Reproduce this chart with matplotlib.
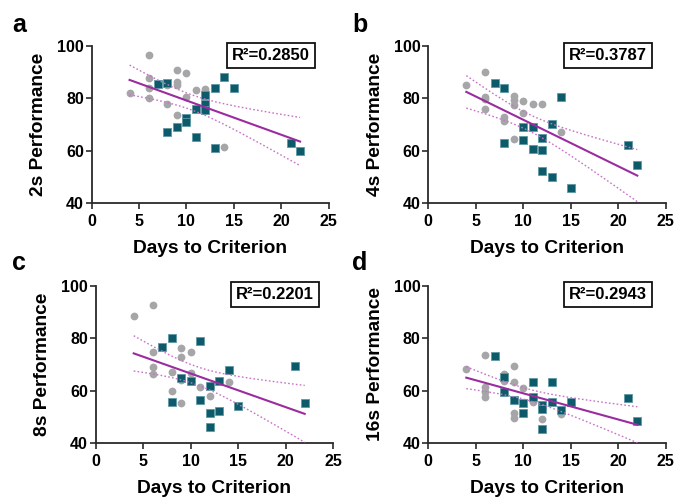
import numpy as np
import matplotlib
matplotlib.use("Agg")
import matplotlib.pyplot as plt

plt.rcParams['font.family'] = ['Liberation Sans', 'DejaVu Sans']
plt.rcParams['font.weight'] = 'bold'

# ---- data (x = days to criterion, y = performance) ----
# panel a: 2s
a_gray_x = [4, 6, 6, 6, 6, 8, 8, 9, 9, 9, 9, 10, 10, 11, 12, 14]
a_gray_y = [82, 96.5, 87.8, 83.8, 80, 85, 77.8, 90.7, 86.3, 85, 73.6, 89.5, 80.6, 83.1, 83.4, 61.5]
a_teal_x = [7, 8, 8, 9, 10, 10, 11, 11, 12, 12, 12, 13, 13, 14, 15, 21, 22]
a_teal_y = [85.4, 86, 67.3, 69.2, 72.3, 71, 75.8, 65.4, 81.2, 77.8, 75.5, 84, 60.9, 88.2, 83.8, 63, 60]

# panel b: 4s
b_gray_x = [4, 6, 6, 6, 6, 8, 8, 9, 9, 9, 9, 10, 10, 11, 12, 14]
b_gray_y = [85, 90, 80.6, 79.7, 75.8, 72.7, 71.4, 81, 79.3, 77.4, 64.3, 78.9, 74.5, 78, 77.8, 67]
b_teal_x = [7, 8, 8, 10, 10, 11, 11, 12, 12, 12, 13, 13, 14, 15, 21, 22]
b_teal_y = [86, 83.9, 62.8, 69, 64.1, 68.9, 60.7, 65, 60.2, 52.2, 70, 49.9, 80.6, 45.7, 62.3, 54.6]

# panel c: 8s
c_gray_x = [4, 6, 6, 6, 6, 8, 8, 9, 9, 9, 9, 10, 10, 11, 12, 14]
c_gray_y = [88.6, 92.6, 74.9, 68.8, 66.2, 66.9, 60, 76.4, 72.7, 64.1, 55.2, 74.6, 66.6, 61.5, 58, 63.2]
c_teal_x = [7, 8, 8, 9, 10, 11, 11, 12, 12, 12, 13, 13, 14, 15, 21, 22]
c_teal_y = [76.8, 80, 55.8, 64.7, 63.5, 78.9, 56.5, 61.8, 51.6, 46, 63.8, 52.3, 67.9, 54.2, 69.4, 55.2]

# panel d: 16s
d_gray_x = [4, 6, 6, 6, 6, 8, 8, 8, 9, 9, 9, 9, 10, 11, 12, 14]
d_gray_y = [68.4, 73.4, 61.5, 59.3, 57.4, 66.4, 65.1, 63.7, 69.2, 63.1, 51.4, 49.5, 60.9, 55.8, 49.1, 51]
d_teal_x = [7, 8, 8, 9, 10, 10, 11, 11, 12, 12, 12, 13, 13, 14, 15, 21, 22]
d_teal_y = [73.2, 65.1, 59.3, 56.5, 55.2, 51.4, 63.1, 57.4, 54.6, 52.9, 45.3, 63.1, 55.8, 52.7, 55.6, 57.1, 48.5]

panel_letters = ['a', 'b', 'c', 'd']
ylabels = ['2s Performance', '4s Performance', '8s Performance', '16s Performance']
r2_labels = ['R\u00b2=0.2850', 'R\u00b2=0.3787', 'R\u00b2=0.2201', 'R\u00b2=0.2943']
xlabel = 'Days to Criterion'
xticks = [0, 5, 10, 15, 20, 25]
yticks = [40, 60, 80, 100]

panels = [
    (a_gray_x, a_gray_y, a_teal_x, a_teal_y),
    (b_gray_x, b_gray_y, b_teal_x, b_teal_y),
    (c_gray_x, c_gray_y, c_teal_x, c_teal_y),
    (d_gray_x, d_gray_y, d_teal_x, d_teal_y),
]

GRAY = '#a6a6a8'
TEAL = '#0d5a6a'
PURPLE = '#9a2ca0'
BAND = '#c873c8'

W, H = 675, 498
fig = plt.figure(figsize=(W / 100, H / 100), dpi=100)

# axes rectangles in pixels: (left, top_of_axes(y=100), right(x=25), bottom(y=40))
rects = [
    (91.7, 46, 328.5, 203),
    (428.3, 46, 665.8, 203),
    (95.7, 285.7, 333.2, 443),
    (428.3, 285.7, 665.8, 443),
]
letter_pos = [(12, 32), (352, 32), (12, 270), (352, 270)]

for i, (gx, gy, tx, ty) in enumerate(panels):
    l, t, r, b = rects[i]
    ax = fig.add_axes([l / W, (H - b) / H, (r - l) / W, (b - t) / H])
    ax.set_xlim(0, 25)
    ax.set_ylim(40, 100)
    for s in ['top', 'right']:
        ax.spines[s].set_visible(False)
    for s in ['left', 'bottom']:
        ax.spines[s].set_linewidth(1.3)
        ax.spines[s].set_color('#2a2a2a')
    ax.tick_params(axis='both', direction='out', length=4.5, width=1.2,
                   color='#2a2a2a', labelsize=11.5)
    ax.tick_params(axis='x', pad=3.5)
    ax.tick_params(axis='y', pad=1.2)
    ax.set_xticks(xticks)
    ax.set_yticks(yticks)
    for lab in ax.get_xticklabels() + ax.get_yticklabels():
        lab.set_fontweight('bold')

    ax.plot(gx, gy, 'o', color=GRAY, markersize=5.6, markeredgewidth=0, zorder=3, clip_on=False)
    ax.plot(tx, ty, 's', color=TEAL, markersize=5.6, markeredgecolor='#5f9aa5',
            markeredgewidth=0.6, zorder=3, clip_on=False)

    # linear regression with 95% confidence band on all points
    x = np.array(gx + tx, dtype=float)
    y = np.array(gy + ty, dtype=float)
    n = len(x)
    slope, intercept = np.polyfit(x, y, 1)
    xs = np.linspace(x.min(), x.max(), 200)
    yfit = slope * xs + intercept
    resid = y - (slope * x + intercept)
    s_err = np.sqrt(np.sum(resid ** 2) / (n - 2))
    sxx = np.sum((x - x.mean()) ** 2)
    tval = 2.04
    ci = tval * s_err * np.sqrt(1.0 / n + (xs - x.mean()) ** 2 / sxx)
    ax.plot(xs, yfit, color=PURPLE, lw=1.5, zorder=4)
    ax.plot(xs, yfit + ci, color=BAND, lw=1.0, ls=(0, (1.2, 1.6)), zorder=4)
    ax.plot(xs, yfit - ci, color=BAND, lw=1.0, ls=(0, (1.2, 1.6)), zorder=4)

    ax.set_xlabel(xlabel, fontsize=13.8, fontweight='bold', labelpad=8)
    ax.set_ylabel(ylabels[i], fontsize=13.8, fontweight='bold', labelpad=7)

    ax.text(18.9, 96.5, r2_labels[i], fontsize=12, fontweight='bold',
            ha='center', va='center', clip_on=False, zorder=5,
            bbox=dict(boxstyle='square,pad=0.3', facecolor='white',
                      edgecolor='#111111', linewidth=1.3))

    lx, ly = letter_pos[i]
    fig.text(lx / W, 1 - ly / H, panel_letters[i], fontsize=18, fontweight='bold',
             ha='left', va='baseline')

fig.savefig('out.png', dpi=100)
